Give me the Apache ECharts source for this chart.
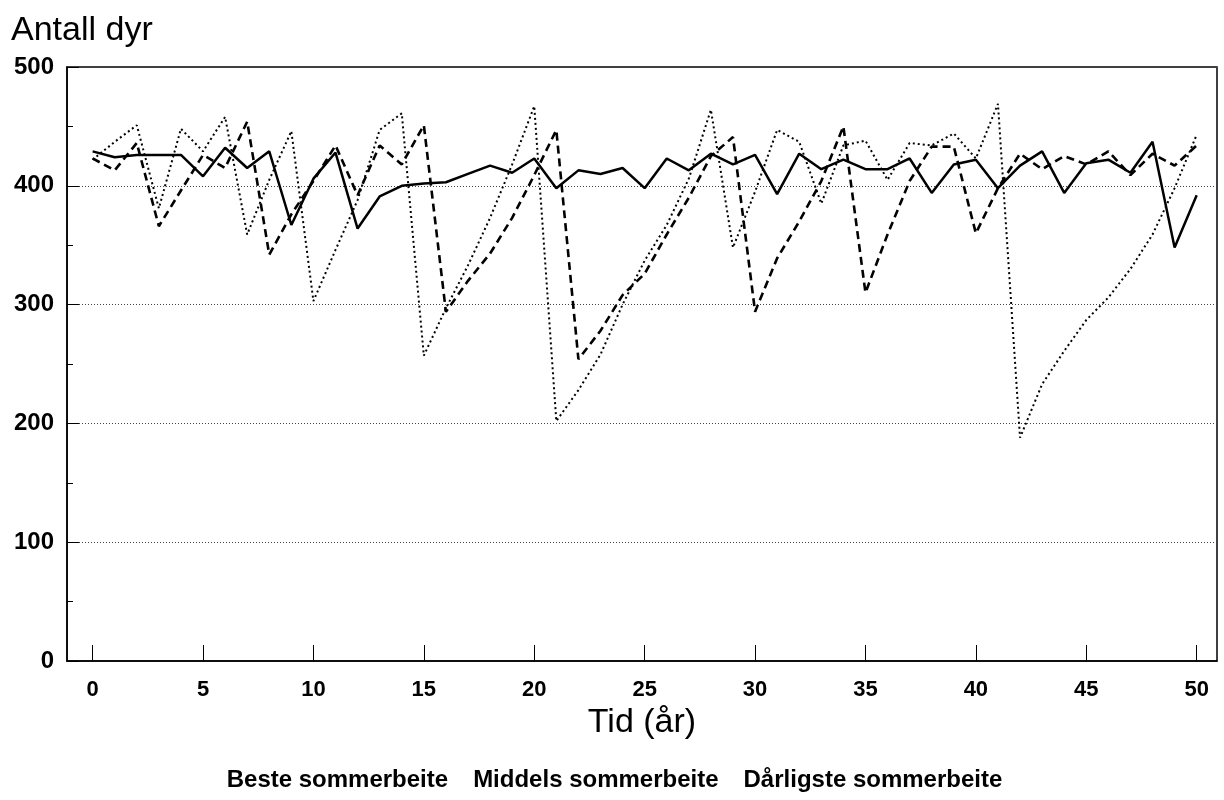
<!DOCTYPE html>
<html>
<head>
<meta charset="utf-8">
<script src="https://cdn.jsdelivr.net/npm/echarts@6/dist/echarts.min.js"></script>
<style>
  html, body { margin: 0; padding: 0; background: #fff; }
  #chart { width: 1224px; height: 800px; }
</style>
</head>
<body>
<div id="chart"></div>
<script>
// Years 0..50
const years = Array.from({ length: 51 }, (_, i) => i);
const xTicks = [0, 5, 10, 15, 20, 25, 30, 35, 40, 45, 50];

const beste = [429, 424, 426, 426, 426, 408, 432, 415, 429, 367,
               406, 428, 364, 391, 400, 402, 403, 410, 417, 411,
               423, 398, 413, 410, 415, 398, 423, 413, 427, 418,
               426, 393, 427, 414, 422, 414, 414, 423, 394, 418,
               422, 398, 417, 429, 394, 419, 422, 411, 437, 348,
               392];

const middels = [423, 413, 436, 366, 396, 426, 415, 454, 342, 376,
                 404, 434, 392, 434, 418, 451, 294, 320, 343, 373,
                 409, 447, 254, 278, 308, 326, 359, 390, 425, 441,
                 294, 339, 370, 404, 450, 310, 359, 404, 433, 433,
                 360, 398, 427, 414, 425, 418, 429, 409, 427, 417,
                 434];

const darligste = [422, 437, 451, 381, 448, 429, 458, 359, 405, 446,
                   303, 346, 388, 447, 461, 257, 297, 333, 373, 418,
                   467, 202, 228, 258, 300, 337, 367, 406, 464, 348,
                   395, 447, 437, 385, 434, 438, 405, 436, 434, 444,
                   423, 469, 188, 233, 261, 287, 306, 330, 359, 398,
                   443];

const seriesNames = ['Beste sommerbeite', 'Middels sommerbeite', 'Dårligste sommerbeite'];

const pair = (arr) => years.map((x, i) => [x, arr[i]]);

const FONT = '"Liberation Sans", Arial, Helvetica, sans-serif';

const chart = echarts.init(document.getElementById('chart'), null, { renderer: 'canvas' });

chart.setOption({
  backgroundColor: '#ffffff',
  animation: false,
  textStyle: { fontFamily: FONT, color: '#000' },
  title: {
    text: 'Antall dyr',
    left: 6,
    top: 9,
    textStyle: { fontFamily: FONT, fontSize: 34, fontWeight: 'normal', color: '#000' }
  },
  legend: {
    data: seriesNames,
    left: 'center',
    top: 763,
    icon: 'none',
    itemWidth: 0,
    itemHeight: 0,
    itemGap: 20,
    textStyle: { fontFamily: FONT, fontSize: 24, fontWeight: 'bold', color: '#000' }
  },
  grid: {
    left: 67,
    right: 7,
    top: 67,
    bottom: 139,
    show: true,
    borderColor: '#000',
    borderWidth: 1.5,
    backgroundColor: 'transparent',
    outerBoundsMode: 'none'
  },
  xAxis: {
    type: 'value',
    min: -1.16,
    max: 50.92,
    name: 'Tid (år)',
    nameLocation: 'middle',
    nameGap: 36,
    nameTextStyle: { fontFamily: FONT, fontSize: 34, color: '#000' },
    axisLine: { show: true, onZero: false, lineStyle: { color: '#000', width: 1.5 } },
    axisTick: { show: true, inside: true, length: 16, customValues: xTicks, lineStyle: { color: '#000', width: 1 } },
    axisLabel: {
      customValues: xTicks,
      margin: 18,
      fontFamily: FONT, fontSize: 22, fontWeight: 'bold', color: '#000'
    },
    splitLine: { show: false }
  },
  yAxis: {
    type: 'value',
    min: 0,
    max: 500,
    interval: 100,
    axisLine: { show: true, onZero: false, lineStyle: { color: '#000', width: 1.5 } },
    axisTick: { show: true, inside: true, length: 12, lineStyle: { color: '#000', width: 1 } },
    minorTick: { show: true, splitNumber: 2, length: 6, lineStyle: { color: '#000', width: 1 } },
    axisLabel: {
      margin: 13,
      fontFamily: FONT, fontSize: 24, fontWeight: 'bold', color: '#000'
    },
    splitLine: { show: true, lineStyle: { color: '#444', width: 1, type: [1, 2] } }
  },
  series: [
    {
      name: seriesNames[0],
      type: 'line',
      data: pair(beste),
      showSymbol: false,
      symbol: 'none',
      lineStyle: { color: '#000', width: 2.5, type: 'solid' },
      itemStyle: { color: '#000' },
      z: 4
    },
    {
      name: seriesNames[1],
      type: 'line',
      data: pair(middels),
      showSymbol: false,
      symbol: 'none',
      lineStyle: { color: '#000', width: 2.6, type: [8, 5] },
      itemStyle: { color: '#000' },
      z: 3
    },
    {
      name: seriesNames[2],
      type: 'line',
      data: pair(darligste),
      showSymbol: false,
      symbol: 'none',
      lineStyle: { color: '#000', width: 2, type: [2, 3] },
      itemStyle: { color: '#000' },
      z: 2
    }
  ]
});
</script>
</body>
</html>
